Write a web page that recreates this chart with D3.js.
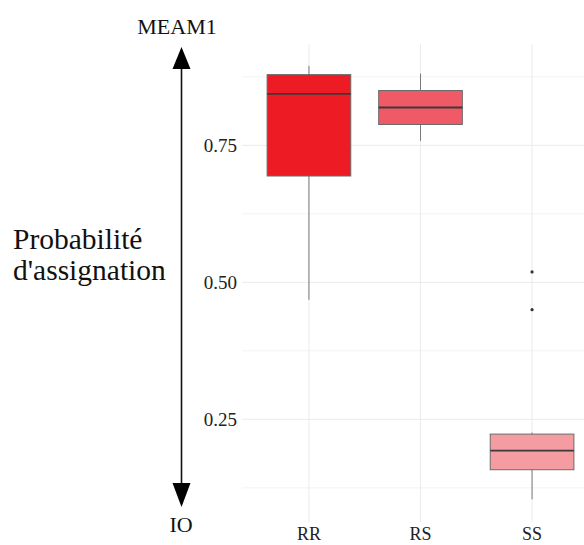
<!DOCTYPE html>
<html>
<head>
<meta charset="utf-8">
<script src="https://cdn.jsdelivr.net/npm/d3@7"></script>
<style>
  html, body { margin: 0; padding: 0; background: #fff; }
  svg { display: block; }
  text { font-family: "Liberation Serif", "Times New Roman", serif; }
</style>
</head>
<body>
<svg id="chart" width="584" height="545"></svg>
<script>
// ---- data ----
const categories = ["RR", "RS", "SS"];
const whiskerLow  = [0.468, 0.758, 0.104];
const q1          = [0.694, 0.788, 0.158];
const median      = [0.844, 0.819, 0.193];
const q3          = [0.879, 0.850, 0.223];
const whiskerHigh = [0.895, 0.881, 0.226];
const outliers    = [[], [], [0.519, 0.450]];
const fillColors  = ["#ED1C24", "#F05A67", "#F59CA2"];
const majorTicks  = [0.25, 0.50, 0.75];
const minorTicks  = [0.125, 0.375, 0.625, 0.875];
const tickLabels  = ["0.25", "0.50", "0.75"];
const axisTop = "MEAM1", axisBottom = "IO";
const titleLines = ["Probabilité", "d'assignation"];

const svg = d3.select("#chart");

const panel = { left: 242, right: 599, top: 44, bottom: 522 };

const x = d3.scaleBand()
  .domain(categories)
  .range([panel.left, panel.right])
  .paddingInner(0)
  .paddingOuter(0.1);

const y = d3.scaleLinear()
  .domain([0.0626, 0.9349])
  .range([panel.bottom, panel.top]);

const grid = svg.append("g");
grid.selectAll("line.minor").data(minorTicks).join("line")
  .attr("x1", panel.left).attr("x2", 584)
  .attr("y1", d => y(d)).attr("y2", d => y(d))
  .attr("stroke", "#f0f0f0").attr("stroke-width", 0.8);
grid.selectAll("line.major").data(majorTicks).join("line")
  .attr("x1", panel.left).attr("x2", 584)
  .attr("y1", d => y(d)).attr("y2", d => y(d))
  .attr("stroke", "#ebebeb").attr("stroke-width", 1);
grid.selectAll("line.v").data(categories).join("line")
  .attr("x1", d => x(d) + x.bandwidth() / 2).attr("x2", d => x(d) + x.bandwidth() / 2)
  .attr("y1", panel.top).attr("y2", panel.bottom)
  .attr("stroke", "#ebebeb").attr("stroke-width", 1);

// y tick labels
svg.append("g").selectAll("text").data(majorTicks).join("text")
  .attr("x", 237).attr("y", d => y(d))
  .attr("dy", "0.35em")
  .attr("text-anchor", "end")
  .style("font-size", "19px")
  .attr("fill", "#222")
  .text((d, i) => tickLabels[i]);

// x tick labels
svg.append("g").selectAll("text").data(categories).join("text")
  .attr("x", d => x(d) + x.bandwidth() / 2).attr("y", 540)
  .attr("text-anchor", "middle")
  .style("font-size", "18px")
  .attr("fill", "#222")
  .text(d => d);

// boxes
const bw = x.bandwidth() * 0.75;
const boxes = svg.append("g").selectAll("g").data(categories).join("g");
boxes.each(function (c, i) {
  const g = d3.select(this);
  const cx = x(c) + x.bandwidth() / 2;
  g.append("line").attr("x1", cx).attr("x2", cx)
    .attr("y1", y(q3[i])).attr("y2", y(whiskerHigh[i]))
    .attr("stroke", "#7a7a7a").attr("stroke-width", 1);
  g.append("line").attr("x1", cx).attr("x2", cx)
    .attr("y1", y(q1[i])).attr("y2", y(whiskerLow[i]))
    .attr("stroke", "#7a7a7a").attr("stroke-width", 1);
  g.append("rect")
    .attr("x", cx - bw / 2).attr("width", bw)
    .attr("y", y(q3[i])).attr("height", y(q1[i]) - y(q3[i]))
    .attr("fill", fillColors[i])
    .attr("stroke", "#6a6a6a").attr("stroke-width", 1);
  g.append("line").attr("x1", cx - bw / 2).attr("x2", cx + bw / 2)
    .attr("y1", y(median[i])).attr("y2", y(median[i]))
    .attr("stroke", "#3a3a3a").attr("stroke-width", 1.8);
  g.selectAll("circle").data(outliers[i]).join("circle")
    .attr("cx", cx).attr("cy", d => y(d)).attr("r", 1.6)
    .attr("fill", "#333");
});

// double arrow on the left
const ax = 181.5;
svg.append("line").attr("x1", ax).attr("x2", ax).attr("y1", 66).attr("y2", 486)
  .attr("stroke", "#111").attr("stroke-width", 1.6);
svg.append("path").attr("d", `M${ax},47 L${ax - 9},69 L${ax + 9},69 Z`).attr("fill", "#000");
svg.append("path").attr("d", `M${ax},507 L${ax - 9},483 L${ax + 9},483 Z`).attr("fill", "#000");

svg.append("text").attr("x", 177).attr("y", 34)
  .attr("text-anchor", "middle").style("font-size", "22px")
  .attr("fill", "#111").text(axisTop);
svg.append("text").attr("x", 181).attr("y", 532)
  .attr("text-anchor", "middle").style("font-size", "22px")
  .attr("fill", "#111").text(axisBottom);

svg.append("g").selectAll("text").data(titleLines).join("text")
  .attr("x", 13).attr("y", (d, i) => 249 + i * 31)
  .style("font-size", "29.5px")
  .attr("fill", "#111").text(d => d);
</script>
</body>
</html>
